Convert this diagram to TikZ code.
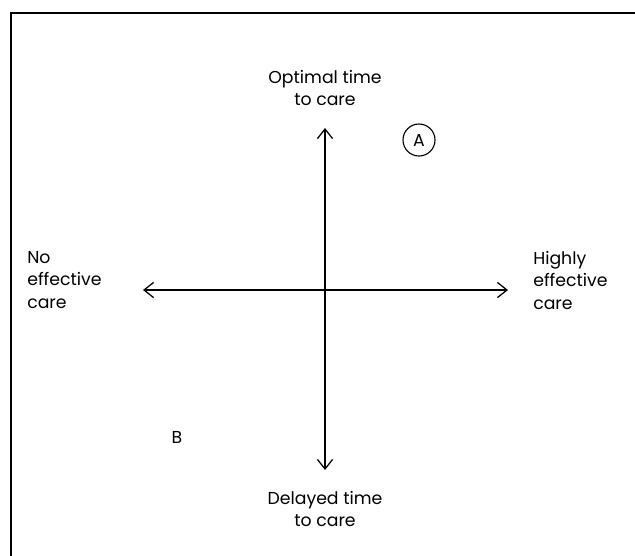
\documentclass[tikz,border=0pt]{standalone}
\usepackage{fontspec}
\setmainfont{Poppins}
\usetikzlibrary{arrows.meta}

\tikzset{
  axis/.style={line width=0.9pt,{Straight Barb[length=2.4mm,width=3.8mm]}-{Straight Barb[length=2.4mm,width=3.8mm]}},
  lbl/.style={font=\fontsize{12.3}{16}\selectfont,inner sep=0pt},
}

\begin{document}
\begin{tikzpicture}[x=0.025cm,y=-0.025cm]
\useasboundingbox (0,0) rectangle (635,555);

% Frame (open to the right and bottom)
\draw[line width=1.3pt,line cap=rect] (635,13) -- (11,13) -- (11,556);

% Axes
\coordinate (top) at (325,128);
\coordinate (bottom) at (325,470);
\coordinate (left) at (143,290);
\coordinate (right) at (508,290);

\draw[axis] (top) -- (bottom);
\draw[axis] (left) -- (right);

% Axis labels
\node[lbl,align=center,anchor=south] (optimal) at (325,106) {Optimal time\\to care};
\node[lbl,align=center,anchor=north] (delayed) at (325,491) {Delayed time\\to care};
\node[lbl,align=left,anchor=west] (none) at (27,280) {No\\effective\\care};
\node[lbl,align=left,anchor=west] (high) at (533,280) {Highly\\effective\\care};

% Points
\node[lbl,draw,circle,line width=0.8pt,minimum size=0.8cm] (A) at (419,140) {A};
\node[lbl] (B) at (177,437) {B};

\end{tikzpicture}
\end{document}
